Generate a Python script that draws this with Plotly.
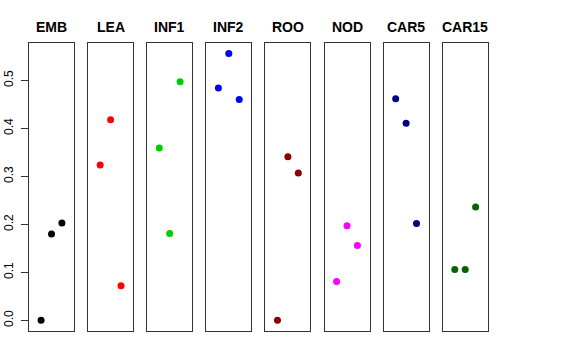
import plotly.graph_objects as go

categories = ["EMB", "LEA", "INF1", "INF2", "ROO", "NOD", "CAR5", "CAR15"]
colors = ["#000000", "#FF0000", "#00CD00", "#0000FF", "#8B0000", "#FF00FF", "#000080", "#006400"]
x_pos = [1, 2, 3]
values = {
    "EMB":   [0.000, 0.180, 0.203],
    "LEA":   [0.324, 0.418, 0.072],
    "INF1":  [0.359, 0.181, 0.497],
    "INF2":  [0.484, 0.556, 0.460],
    "ROO":   [0.000, 0.341, 0.307],
    "NOD":   [0.081, 0.197, 0.156],
    "CAR5":  [0.462, 0.411, 0.202],
    "CAR15": [0.106, 0.106, 0.236],
}
y_ticks = [0.0, 0.1, 0.2, 0.3, 0.4, 0.5]

W, H = 576, 360
ml, mr, mt, mb = 29, 88, 43, 29
pw = W - ml - mr
step = 59.1
panel_w = 45

fig = go.Figure()
layout = dict(
    width=W, height=H,
    margin=dict(l=ml, r=mr, t=mt, b=mb, pad=0, autoexpand=False),
    paper_bgcolor="white", plot_bgcolor="white",
    showlegend=False,
    font=dict(family="Liberation Sans, Arial, sans-serif", color="black"),
)
ymin, ymax = -0.0222, 0.578
annotations = []
for i, cat in enumerate(categories):
    sfx = "" if i == 0 else str(i + 1)
    fig.add_trace(go.Scatter(
        x=x_pos, y=values[cat], mode="markers",
        marker=dict(color=colors[i], size=7, line=dict(width=0)),
        xaxis="x" + sfx, yaxis="y" + sfx, hoverinfo="skip",
    ))
    d0 = step * i / pw
    d1 = (step * i + panel_w) / pw
    layout["xaxis" + sfx] = dict(
        domain=[d0, d1], range=[-0.16, 4.16], showgrid=False, zeroline=False,
        showticklabels=False, ticks="", showline=True, mirror=True,
        linecolor="#333333", linewidth=1, fixedrange=True, automargin=False,
    )
    ya = dict(
        range=[ymin, ymax], showgrid=False, zeroline=False,
        showline=True, mirror=True, linecolor="#333333", linewidth=1,
        fixedrange=True, anchor="x" + sfx, automargin=False,
    )
    if i == 0:
        ya.update(
            tickvals=y_ticks, ticktext=[f"{v:.1f}" for v in y_ticks],
            ticks="outside", ticklen=7, tickcolor="#333333",
            tickangle=-90, tickfont=dict(size=12, color="black"),
            ticklabelstandoff=3,
        )
    else:
        ya.update(showticklabels=False, ticks="", matches="y")
    layout["yaxis" + sfx] = ya
    annotations.append(dict(
        text="<b>" + cat + "</b>", x=(d0 + d1) / 2, y=1, xref="paper", yref="paper",
        xanchor="center", yanchor="bottom", yshift=6, showarrow=False,
        font=dict(size=14, color="black"),
    ))
layout["annotations"] = annotations
fig.update_layout(**layout)
fig.write_html(
    "out.html",
    config={"displayModeBar": False, "staticPlot": True},
    post_script="document.body.style.margin='0';document.body.style.padding='0';",
)
